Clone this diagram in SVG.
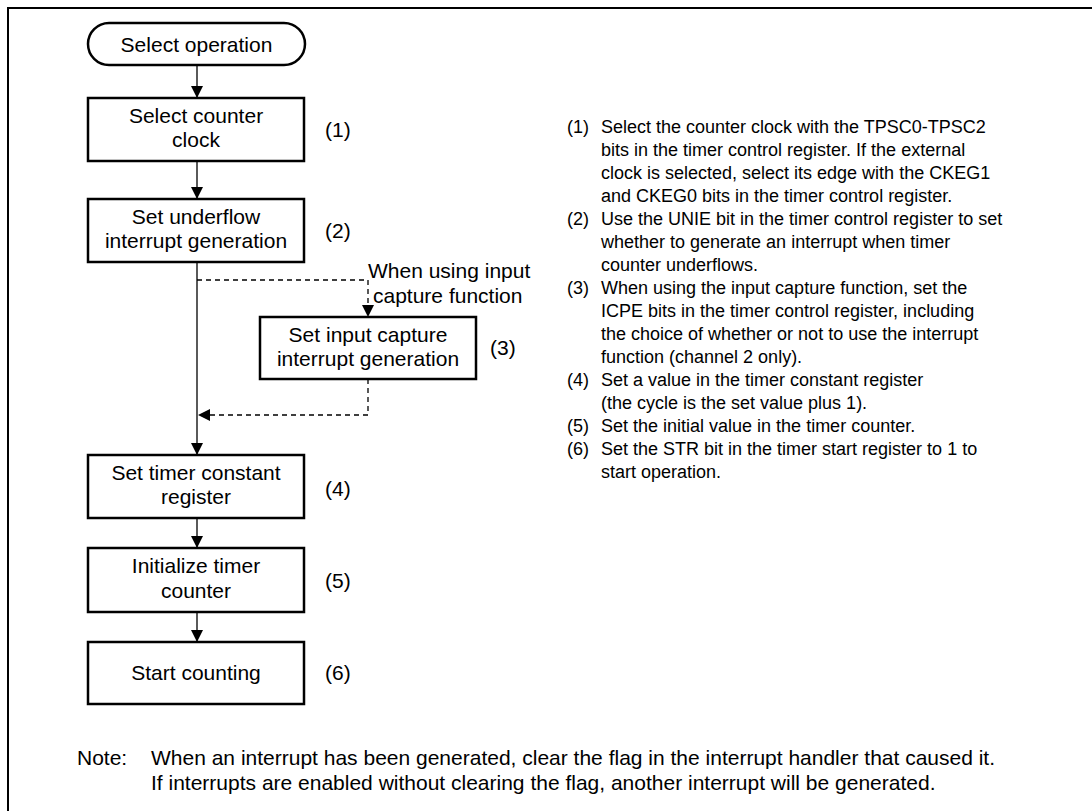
<svg xmlns="http://www.w3.org/2000/svg" width="1092" height="811" viewBox="0 0 1092 811">
<defs>
<marker id="arr" viewBox="0 0 12 12" refX="12" refY="6" markerWidth="12" markerHeight="12" markerUnits="userSpaceOnUse" orient="auto">
<path d="M0,0 L12,6 L0,12 Z" fill="#000"/>
</marker>
</defs>
<style>
.box{fill:#fff;stroke:#000;stroke-width:2.5}
.t{font-family:"Liberation Sans",Arial,sans-serif;font-size:21px;fill:#000}
.c{text-anchor:middle}
.r{font-family:"Liberation Sans",Arial,sans-serif;font-size:18px;fill:#000}
.n{font-family:"Liberation Sans",Arial,sans-serif;font-size:21px;fill:#000}
.ln{fill:none;stroke:#000;stroke-width:1.3}
.dash{fill:none;stroke:#000;stroke-width:1.3;stroke-dasharray:5 4}
</style>
<rect width="1092" height="811" fill="#fff"/>
<path d="M8,811 L8,8 L1092,8" fill="none" stroke="#000" stroke-width="2"/>

<g id="connectors">
<line class="ln" x1="197" y1="65" x2="197" y2="98" marker-end="url(#arr)"/>
<line class="ln" x1="197" y1="161" x2="197" y2="199" marker-end="url(#arr)"/>
<line class="ln" x1="197" y1="262" x2="197" y2="455" marker-end="url(#arr)"/>
<polyline class="dash" points="197,280 368,280 368,317" marker-end="url(#arr)"/>
<polyline class="dash" points="368,379 368,415 198,415" marker-end="url(#arr)"/>
<line class="ln" x1="197" y1="518" x2="197" y2="548" marker-end="url(#arr)"/>
<line class="ln" x1="197" y1="612" x2="197" y2="642" marker-end="url(#arr)"/>
<text class="t" x="368" y="278">When using input</text>
<text class="t" x="373" y="303">capture function</text>
</g>

<g id="start">
<rect class="box" x="88" y="23" width="217" height="42" rx="21" ry="21"/>
<text class="t c" x="196.5" y="52">Select operation</text>
</g>

<g id="step1">
<rect class="box" x="88" y="98" width="216" height="63"/>
<text class="t c" x="196" y="123">Select counter</text>
<text class="t c" x="196" y="147">clock</text>
<text class="t" x="325" y="137">(1)</text>
</g>

<g id="step2">
<rect class="box" x="88" y="199" width="216" height="63"/>
<text class="t c" x="196" y="224">Set underflow</text>
<text class="t c" x="196" y="248">interrupt generation</text>
<text class="t" x="325" y="238">(2)</text>
</g>

<g id="step3">
<rect class="box" x="260" y="317" width="216" height="62"/>
<text class="t c" x="368" y="342">Set input capture</text>
<text class="t c" x="368" y="366">interrupt generation</text>
<text class="t" x="490" y="355">(3)</text>
</g>

<g id="step4">
<rect class="box" x="88" y="455" width="216" height="63"/>
<text class="t c" x="196" y="480">Set timer constant</text>
<text class="t c" x="196" y="504">register</text>
<text class="t" x="325" y="496">(4)</text>
</g>

<g id="step5">
<rect class="box" x="88" y="548" width="216" height="64"/>
<text class="t c" x="196" y="573">Initialize timer</text>
<text class="t c" x="196" y="598">counter</text>
<text class="t" x="325" y="588">(5)</text>
</g>

<g id="step6">
<rect class="box" x="88" y="642" width="216" height="62"/>
<text class="t c" x="196" y="680">Start counting</text>
<text class="t" x="325" y="680">(6)</text>
</g>

<g id="notes">
<text class="r" x="567" y="133">(1)</text><text class="r" x="601" y="133">Select the counter clock with the TPSC0-TPSC2</text>
<text class="r" x="601" y="156">bits in the timer control register. If the external</text>
<text class="r" x="601" y="179">clock is selected, select its edge with the CKEG1</text>
<text class="r" x="601" y="202">and CKEG0 bits in the timer control register.</text>
<text class="r" x="567" y="225">(2)</text><text class="r" x="601" y="225">Use the UNIE bit in the timer control register to set</text>
<text class="r" x="601" y="248">whether to generate an interrupt when timer</text>
<text class="r" x="601" y="271">counter underflows.</text>
<text class="r" x="567" y="294">(3)</text><text class="r" x="601" y="294">When using the input capture function, set the</text>
<text class="r" x="601" y="317">ICPE bits in the timer control register, including</text>
<text class="r" x="601" y="340">the choice of whether or not to use the interrupt</text>
<text class="r" x="601" y="363">function (channel 2 only).</text>
<text class="r" x="567" y="386">(4)</text><text class="r" x="601" y="386">Set a value in the timer constant register</text>
<text class="r" x="601" y="409">(the cycle is the set value plus 1).</text>
<text class="r" x="567" y="432">(5)</text><text class="r" x="601" y="432">Set the initial value in the timer counter.</text>
<text class="r" x="567" y="455">(6)</text><text class="r" x="601" y="455">Set the STR bit in the timer start register to 1 to</text>
<text class="r" x="601" y="478">start operation.</text>
</g>

<g id="note">
<text class="n" x="77" y="765">Note:</text>
<text class="n" x="151" y="765">When an interrupt has been generated, clear the flag in the interrupt handler that caused it.</text>
<text class="n" x="151" y="790">If interrupts are enabled without clearing the flag, another interrupt will be generated.</text>
</g>
</svg>
